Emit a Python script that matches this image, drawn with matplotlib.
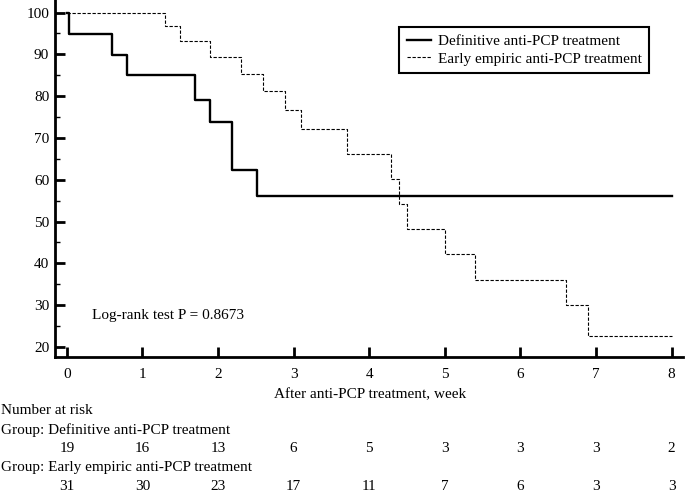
import matplotlib
matplotlib.use('Agg')
import matplotlib.pyplot as plt
from matplotlib.ticker import MultipleLocator

plt.rcParams['font.family'] = ['Liberation Serif', 'DejaVu Serif']

# Kaplan-Meier steps (week, % surviving)
def_weeks = [0, 0.03, 0.60, 0.80, 1.69, 1.89, 2.19, 2.51, 8.0]
def_surv = [100, 94.8, 89.8, 85.0, 79.1, 73.7, 62.3, 56.2, 56.2]

emp_weeks = [0, 1.30, 1.49, 1.89, 2.30, 2.60, 2.89, 3.10, 3.71, 4.29, 4.40,
             4.50, 5.00, 5.40, 6.60, 6.90, 8.0]
emp_surv = [100, 96.8, 93.3, 89.3, 85.3, 81.2, 76.7, 72.2, 66.2, 60.2, 54.1,
            48.1, 42.2, 36.1, 30.1, 22.6, 22.6]

risk_weeks = [0, 1, 2, 3, 4, 5, 6, 7, 8]
risk_def = [19, 16, 13, 6, 5, 3, 3, 3, 2]
risk_emp = [31, 30, 23, 17, 11, 7, 6, 3, 3]

label_def = 'Definitive anti-PCP treatment'
label_emp = 'Early empiric anti-PCP treatment'

fig = plt.figure(figsize=(6.85, 4.93), dpi=100)
ax = fig.add_axes([0.080, 0.276, 0.917, 0.724])

ax.step(def_weeks, def_surv, where='post', color='black', lw=1.7, label=label_def)
ax.step(emp_weeks, emp_surv, where='post', color='black', lw=0.8,
        linestyle=(0, (3, 1.5)), label=label_emp)

ax.set_xlim(-0.16, 8.15)
ax.set_ylim(17.6, 103)
ax.set_xticks(range(0, 9))
ax.set_yticks(range(20, 101, 10))
ax.yaxis.set_minor_locator(MultipleLocator(5))

for s in ['top', 'right']:
    ax.spines[s].set_visible(False)
for s in ['left', 'bottom']:
    ax.spines[s].set_linewidth(2)

ax.tick_params(axis='both', which='major', direction='in', length=7, width=2,
               labelsize=11)
ax.tick_params(axis='x', which='major', pad=8)
ax.tick_params(axis='y', which='major', pad=4)
ax.tick_params(axis='y', which='minor', direction='in', length=3.5, width=1)

ax.text(0.33, 27.4, 'Log-rank test P = 0.8673', fontsize=11, va='center')

leg = ax.legend(loc='upper right', bbox_to_anchor=(0.946, 0.925),
                borderaxespad=0, fancybox=False, fontsize=11,
                handlelength=1.6, handletextpad=0.4, borderpad=0.5,
                labelspacing=0.25, framealpha=1)
leg.get_frame().set_edgecolor('black')
leg.get_frame().set_linewidth(1.5)

# x label and number-at-risk table, placed in figure pixel rows
fig_h = 493.0
def fy(px):
    return 1 - px / fig_h

fig.text(0.54, fy(395), 'After anti-PCP treatment, week', fontsize=11,
         ha='center', va='center')
fig.text(0.002, fy(411), 'Number at risk', fontsize=11, va='center')
fig.text(0.002, fy(430), 'Group: ' + label_def, fontsize=11, va='center')
fig.text(0.002, fy(467), 'Group: ' + label_emp, fontsize=11, va='center')

for w, n1, n2 in zip(risk_weeks, risk_def, risk_emp):
    x_fig = fig.transFigure.inverted().transform(ax.transData.transform((w, 50)))[0]
    fig.text(x_fig, fy(448), str(n1), fontsize=11, ha='center', va='center')
    fig.text(x_fig, fy(486), str(n2), fontsize=11, ha='center', va='center')

fig.savefig('out.png', dpi=100)
